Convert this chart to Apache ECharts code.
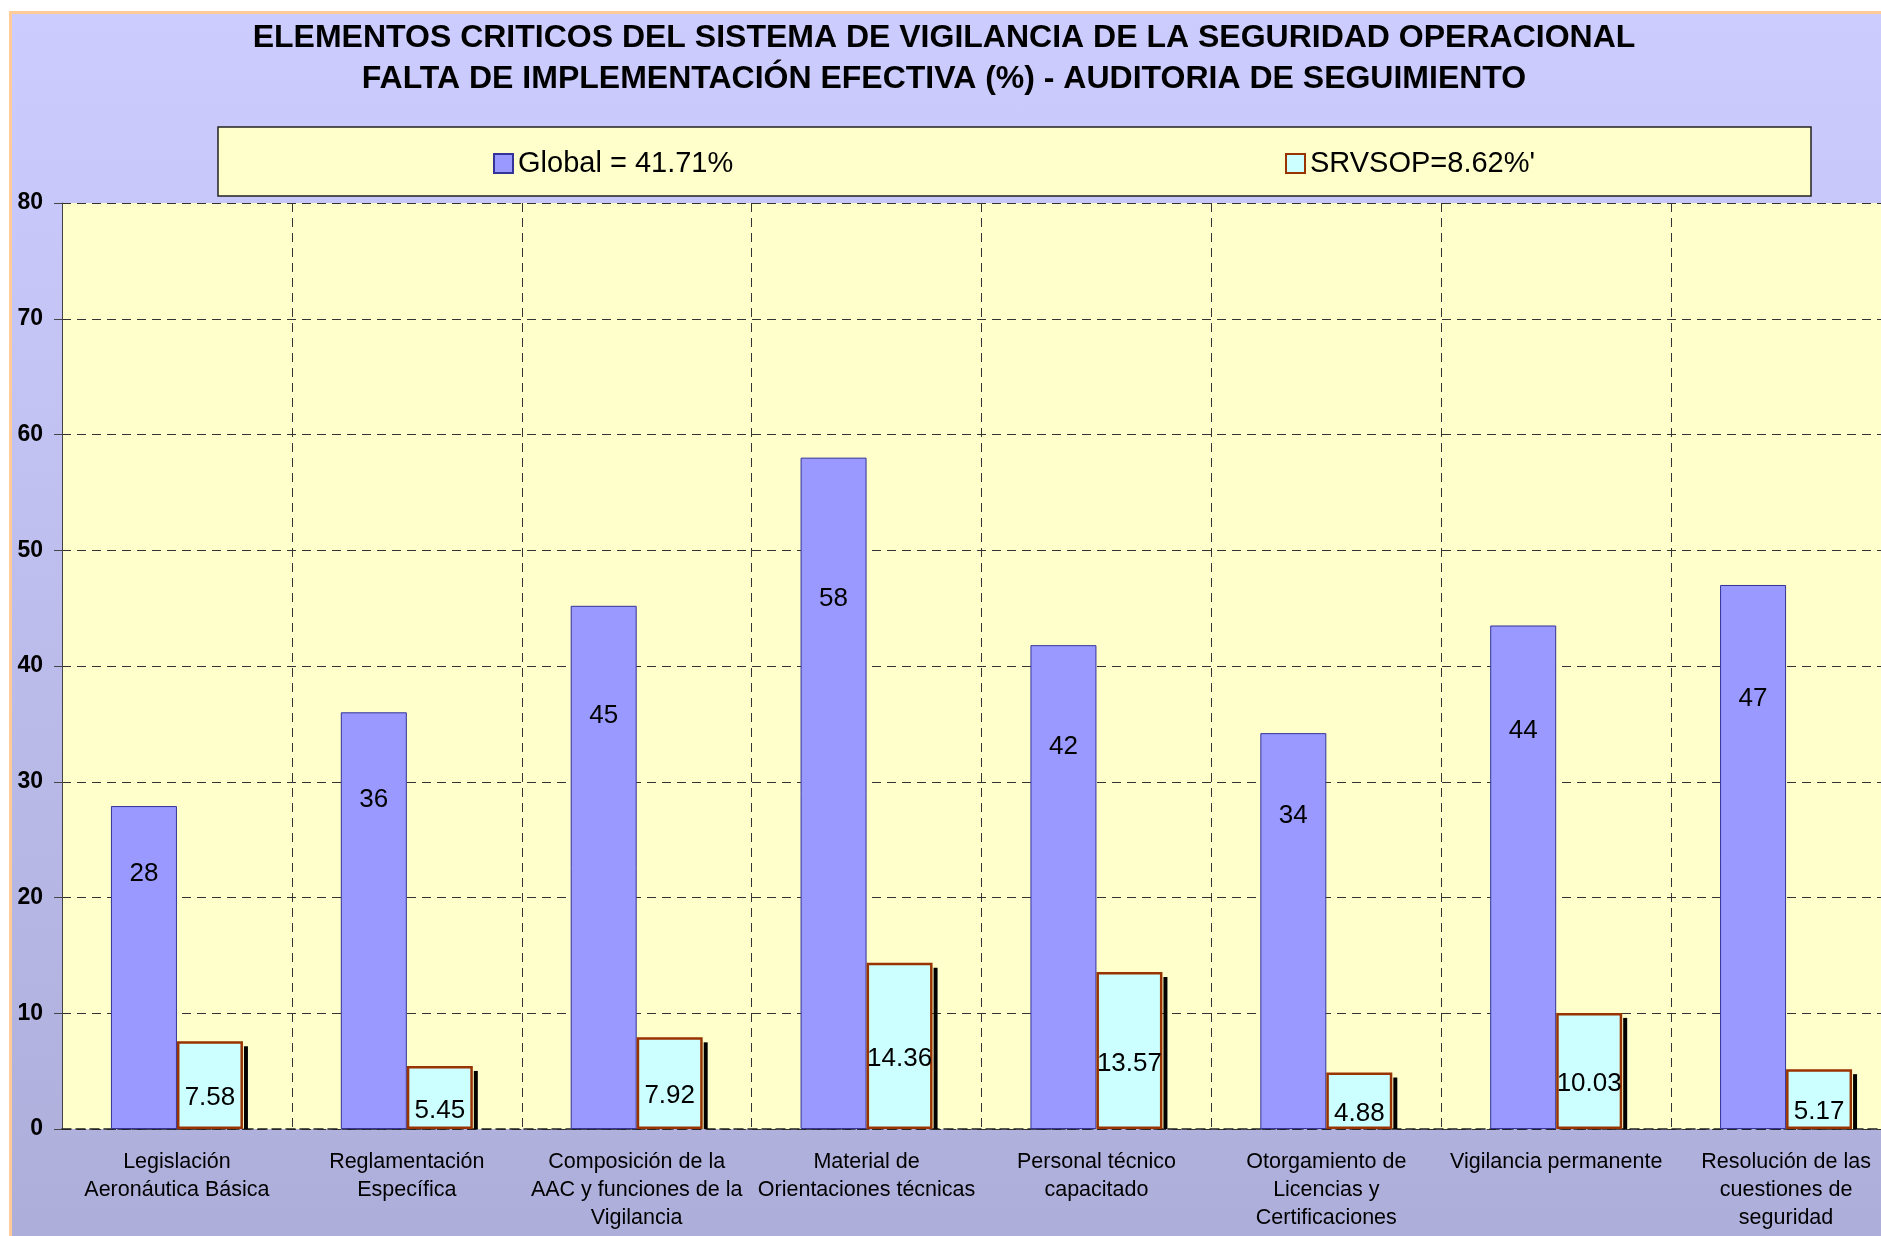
<!DOCTYPE html>
<html>
<head>
<meta charset="utf-8">
<script src="https://cdn.jsdelivr.net/npm/echarts@6/dist/echarts.min.js"></script>
<style>
    html, body{
        margin: 0;
        padding: 0;
        overflow: hidden;
        background: #ffffff;
    }
    .frame{
        position: absolute;
        left: 9px;
        top: 11px;
        width: 2000px;
        height: 1300px;
        border-left: 3px solid #ffcc99;
        border-top: 3px solid #ffcc99;
        background: linear-gradient(#ccccff, #acacd8);
    }
    #chart{
        position: absolute;
        left: 0;
        top: 0;
        width: 1960px;
        height: 1236px;
    }
</style>
</head>
<body>
<div class="frame"></div>
<div id="chart"></div>
<script>
    // categorias (ejes)
    let categories = [
        'Legislación\nAeronáutica Básica',
        'Reglamentación\nEspecífica',
        'Composición de la\nAAC y funciones de la\nVigilancia',
        'Material de\nOrientaciones técnicas',
        'Personal técnico\ncapacitado',
        'Otorgamiento de\nLicencias y\nCertificaciones',
        'Vigilancia permanente',
        'Resolución de las\ncuestiones de\nseguridad'
    ];
    let seriesNames = ['Global = 41.71%', "SRVSOP=8.62%'"];
    let globalValues = [27.9, 36.0, 45.2, 58.0, 41.8, 34.2, 43.5, 47.0];
    let srvsopValues = [7.58, 5.45, 7.92, 14.36, 13.57, 4.88, 10.03, 5.17];
    let titleLines = [
        'ELEMENTOS CRITICOS DEL SISTEMA DE VIGILANCIA DE LA SEGURIDAD OPERACIONAL',
        'FALTA DE IMPLEMENTACIÓN EFECTIVA (%) - AUDITORIA DE SEGUIMIENTO'
    ];

    let font = '"Liberation Sans", Arial, sans-serif';
    let barWidth = 66;
    let chart = echarts.init(document.getElementById('chart'));
    let legendText = {fontSize: 29, color: '#000', fontFamily: font};

    //sombra negra a la derecha de las barras SRVSOP
    function renderShadow(params, api){
        let top = api.coord([api.value(0), api.value(1)]);
        let base = api.coord([api.value(0), 0]);
        return {
            type: 'rect',
            shape: {
                x: top[0] + barWidth + 1,
                y: top[1] + 5,
                width: 4,
                height: base[1] - top[1] - 5
            },
            style: {fill: '#000'}
        };
    }

    let option = {
        backgroundColor: 'transparent',
        animation: false,
        textStyle: {fontFamily: font},
        title: {
            text: titleLines.join('\n'),
            left: 944,
            textAlign: 'center',
            top: 18,
            padding: 0,
            textStyle: {
                fontSize: 32,
                fontWeight: 'bold',
                color: '#000',
                lineHeight: 41,
                fontFamily: font
            }
        },
        graphic: [{
            type: 'rect',
            shape: {x: 218, y: 127, width: 1593, height: 69},
            style: {
                fill: '#ffffcc',
                stroke: '#222',
                lineWidth: 1.5
            }
        }],
        legend: [{
            data: [seriesNames[0]],
            left: 493,
            top: 149,
            padding: 0,
            itemWidth: 19,
            itemHeight: 19,
            icon: 'rect',
            textStyle: legendText,
            z: 10
        }, {
            data: [seriesNames[1]],
            left: 1285,
            top: 149,
            padding: 0,
            itemWidth: 19,
            itemHeight: 19,
            icon: 'rect',
            textStyle: legendText,
            z: 10
        }],
        grid: {
            left: 62,
            right: 59,
            top: 203,
            bottom: 107,
            show: true,
            backgroundColor: '#ffffcc',
            borderWidth: 0
        },
        xAxis: {
            type: 'category',
            data: categories,
            axisLine: {
                show: true,
                lineStyle: {color: '#222', width: 1.5, type: [9, 5]}
            },
            axisTick: {show: false},
            axisLabel: {
                interval: 0,
                margin: 19,
                fontSize: 21.5,
                lineHeight: 28,
                color: '#000',
                fontFamily: font
            },
            splitLine: {
                show: true,
                interval: 0,
                lineStyle: {color: '#333', width: 1, type: [9, 6]}
            }
        },
        yAxis: {
            type: 'value',
            min: 0,
            max: 80,
            interval: 10,
            axisLine: {show: true, lineStyle: {color: '#444', width: 1}},
            axisTick: {show: true, length: 8, lineStyle: {color: '#444'}},
            axisLabel: {
                margin: 19,
                fontSize: 23,
                fontWeight: 'bold',
                color: '#000',
                fontFamily: font
            },
            splitLine: {
                show: true,
                lineStyle: {color: '#333', width: 1, type: [9, 6]}
            }
        },
        series: [{
            name: seriesNames[0],
            type: 'bar',
            data: globalValues,
            barWidth: barWidth,
            barGap: '0%',
            z: 3,
            itemStyle: {color: '#9999ff', borderColor: '#333399', borderWidth: 1},
            label: {
                show: true,
                position: ['50%', '21%'],
                align: 'center',
                verticalAlign: 'middle',
                fontSize: 26,
                color: '#000',
                fontFamily: font,
                formatter: function(p){ return Math.round(p.value); }
            }
        }, {
            name: seriesNames[1],
            type: 'bar',
            data: srvsopValues,
            barWidth: barWidth,
            barGap: '0%',
            z: 3,
            itemStyle: {
                color: '#ccffff',
                borderColor: '#993300',
                borderWidth: 2.5
            },
            label: {
                show: true,
                position: 'inside',
                offset: [0, 13],
                fontSize: 26,
                color: '#000',
                fontFamily: font
            }
        }, {
            name: 'sombra',
            type: 'custom',
            z: 2,
            silent: true,
            renderItem: renderShadow,
            data: srvsopValues.map(function(v, i){ return [i, v]; })
        }]
    };
    chart.setOption(option);
</script>
</body>
</html>
